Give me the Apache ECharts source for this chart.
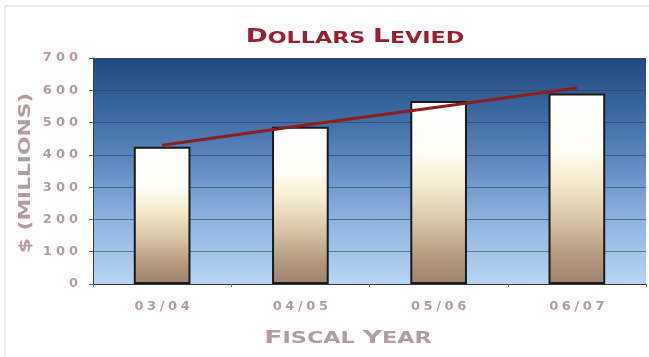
<!DOCTYPE html>
<html>
<head>
<meta charset="utf-8">
<script src="https://cdn.jsdelivr.net/npm/echarts@6/dist/echarts.min.js"></script>
<style>
  html, body { margin: 0; padding: 0; background: #ffffff; }
  #chart { width: 649px; height: 357px; }
</style>
</head>
<body>
<div id="chart"></div>
<script>
// Fiscal years and amounts levied ($ millions)
const categories = ['03/04', '04/05', '05/06', '06/07'];
const dollarsLevied = [425, 487, 567, 590];
// Straight trend line across the four years
const trendValues = [430, 490, 548, 607];
// Value-axis ticks
const yTickValues = [0, 100, 200, 300, 400, 500, 600, 700];

const titleText = 'Dollars Levied';
const xAxisTitle = 'Fiscal Year';
const yAxisTitle = '$ (Millions)';

const FONT = 'DejaVu Sans';
const LABEL_GREY = '#b39d9f';
const TITLE_RED = '#9a1f30';

// Letter-spaced tick lettering: each character becomes its own rich token.
function spaced(text, key) {
  return String(text).split('').map(ch => '{' + key + '|' + ch + '}').join('');
}
// Small caps: first letter of every word large, the rest smaller capitals.
function smallCaps(text) {
  return text.split(' ').map(word =>
    word.split('').map((ch, i) => '{' + (i === 0 ? 'cap' : 'sc') + '|' + ch.toUpperCase() + '}').join('')
  ).join('{sc| }');
}
function capsStyles(color, capSize, scSize) {
  const base = { fontFamily: FONT, fontWeight: 'bold', fill: color, color: color, verticalAlign: 'bottom' };
  return {
    cap: Object.assign({}, base, { fontSize: capSize }),
    sc: Object.assign({}, base, { fontSize: scSize })
  };
}
// Extended (horizontally stretched) heading text
function wideText(text, x, y, rich, fill, scaleX, rotation) {
  return {
    type: 'text', silent: true, z: 10,
    x: x, y: y, scaleX: scaleX, rotation: rotation || 0,
    style: { text: text, rich: rich, fill: fill, align: 'center', verticalAlign: 'middle' }
  };
}

const chart = echarts.init(document.getElementById('chart'), null, { renderer: 'canvas' });

const barGradient = new echarts.graphic.LinearGradient(0, 0, 0, 1, [
  { offset: 0, color: '#ffffff' },
  { offset: 0.3, color: '#fefcf4' },
  { offset: 0.45, color: '#f6edd0' },
  { offset: 0.65, color: '#dac7aa' },
  { offset: 0.85, color: '#b59a80' },
  { offset: 1, color: '#9e826c' }
]);
const plotGradient = new echarts.graphic.LinearGradient(0, 0, 0, 1, [
  { offset: 0, color: '#20497f' },
  { offset: 0.25, color: '#3d6aa3' },
  { offset: 0.5, color: '#6690c6' },
  { offset: 0.75, color: '#92b8e3' },
  { offset: 1, color: '#b8d4f2' }
]);

const yNameRich = {
  n: { fontFamily: FONT, fontWeight: 'bold', fontSize: 15, fill: LABEL_GREY, color: LABEL_GREY }
};

chart.setOption({
  animation: false,
  backgroundColor: '#ffffff',
  graphic: [
    {
      type: 'polyline', silent: true, z: -1,
      shape: { points: [[5, 357], [5, 6], [649, 6]] },
      style: { stroke: '#d9d9d9', lineWidth: 1, fill: null }
    },
    wideText(smallCaps(titleText), 355, 37, capsStyles(TITLE_RED, 19, 16), TITLE_RED, 1.39),
    wideText(smallCaps(xAxisTitle), 348, 338, capsStyles(LABEL_GREY, 18, 15), LABEL_GREY, 1.49),
    wideText(spaced(yAxisTitle.toUpperCase(), 'n'), 26, 173, yNameRich, LABEL_GREY, 1.45, Math.PI / 2)
  ],
  grid: {
    left: 93, right: 3, top: 58, bottom: 73,
    show: true,
    backgroundColor: plotGradient,
    borderWidth: 0
  },
  xAxis: {
    type: 'category',
    data: categories,
    axisLine: { show: true, lineStyle: { color: '#3a3a3a', width: 1 } },
    axisTick: { show: true, length: 3, lineStyle: { color: '#777777' } },
    axisLabel: {
      interval: 0,
      margin: 16,
      formatter: v => spaced(v, 'd'),
      rich: {
        d: { fontFamily: FONT, fontWeight: 'bold', fontSize: 13, color: LABEL_GREY, padding: [0, 1.8] }
      }
    }
  },
  yAxis: {
    type: 'value',
    min: yTickValues[0],
    max: yTickValues[yTickValues.length - 1],
    interval: yTickValues[1] - yTickValues[0],
    axisLine: { show: true, lineStyle: { color: '#3a3a3a', width: 1 } },
    axisTick: { show: true, length: 4, lineStyle: { color: '#666666' } },
    axisLabel: {
      margin: 13,
      formatter: v => spaced(v, 'd'),
      rich: {
        d: { fontFamily: FONT, fontWeight: 'bold', fontSize: 13, color: LABEL_GREY, padding: [0, 2] }
      }
    },
    splitLine: { show: true, lineStyle: { color: '#33404f', width: 1, opacity: 0.6 } }
  },
  series: [
    {
      name: 'Dollars Levied',
      type: 'bar',
      data: dollarsLevied,
      barWidth: '41%',
      itemStyle: { color: barGradient, borderColor: '#1a1a1a', borderWidth: 2 }
    },
    {
      name: 'Trend',
      type: 'line',
      data: trendValues,
      symbol: 'none',
      lineStyle: { color: '#8e1d1d', width: 3 },
      z: 5
    }
  ]
});
</script>
</body>
</html>
